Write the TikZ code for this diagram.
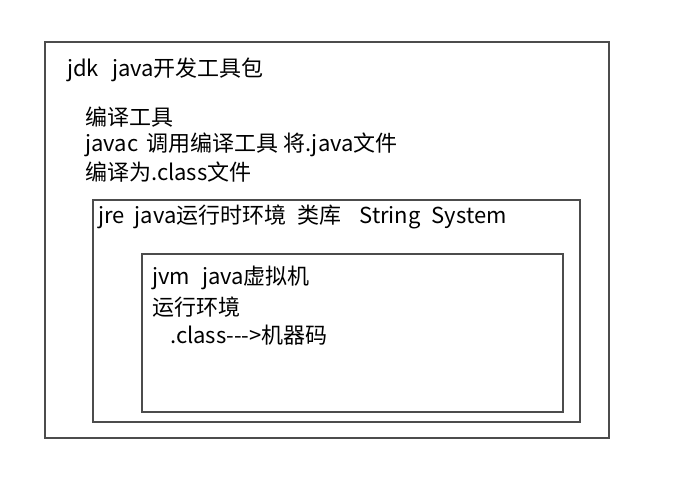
\documentclass[tikz,border=0pt]{standalone}
\usepackage{fontspec}
\setmainfont{Noto Sans CJK SC}
\usetikzlibrary{calc}
\usetikzlibrary{positioning}

\tikzset{
  box/.style = {draw = black!70, line width = 1.1pt},
  txt/.style = {anchor = west, inner sep = 0, font = \fontsize{22}{26}\selectfont}
}

\begin{document}
\begin{tikzpicture}[x=1pt, y=-1pt]

        \useasboundingbox (0,0) rectangle (694,490);

        % Define corner points
        \coordinate (jdk_orig) at (45,42);
        \coordinate (jre_orig) at (93,200);
        \coordinate (jvm_orig) at (142,254);

        % draw the jdk rectangle
        \draw[box] (jdk_orig) rectangle ($(jdk_orig) + (564,396)$);
        \node[txt] (jdk_title) at ($(jdk_orig) + (22,28)$) {jdk\hspace{13pt}java开发工具包};
        \node[txt] (jdk_line1) at ($(jdk_orig) + (40,75)$) {编译工具};
        \node[txt] (jdk_line2) at ($(jdk_orig) + (40,103)$) {javac\hspace{8pt}调用编译工具\hspace{5pt}将.java文件};
        \node[txt] (jdk_line3) at ($(jdk_orig) + (40,130)$) {编译为.class文件};

        % draw the jre rectangle
        \draw[box] (jre_orig) rectangle ($(jre_orig) + (487,222)$);
        \node[txt] (jre_title) at ($(jre_orig) + (5,17)$) {jre\hspace{10pt}java运行时环境\hspace{11pt}类库\hspace{18pt}String\hspace{11pt}System};

        % draw the jvm rectangle
        \draw[box] (jvm_orig) rectangle ($(jvm_orig) + (421,158)$);
        \node[txt] (jvm_title) at ($(jvm_orig) + (10,24)$) {jvm\hspace{12pt}java虚拟机};
        \node[txt] (jvm_line1) at ($(jvm_orig) + (10,53)$) {运行环境};
        \node[txt] (jvm_line2) at ($(jvm_orig) + (28,81)$) {.class-{}-{}-{}>机器码};

\end{tikzpicture}
\end{document}
